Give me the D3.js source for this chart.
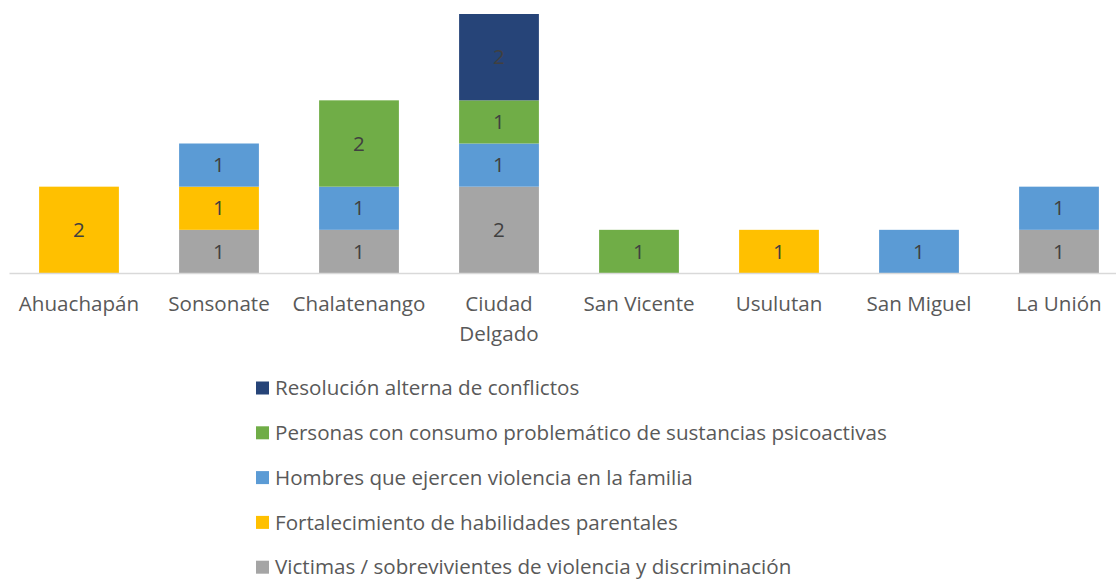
<!DOCTYPE html>
<html>
<head>
<meta charset="utf-8">
<script src="https://cdn.jsdelivr.net/npm/d3@7"></script>
<style>
  body { margin: 0; background: #ffffff; }
  svg { display: block; }
</style>
</head>
<body>
<div id="chart"></div>
<script>
  // Data
  var municipios = ['Ahuachapán', 'Sonsonate', 'Chalatenango', 'Ciudad Delgado',
                    'San Vicente', 'Usulutan', 'San Miguel', 'La Unión'];

  // Series, stacked bottom to top
  var seriesNames = [
    'Victimas / sobrevivientes de violencia y discriminación',
    'Fortalecimiento de habilidades parentales',
    'Hombres que ejercen violencia en la familia',
    'Personas con consumo problemático de sustancias psicoactivas',
    'Resolución alterna de conflictos'
  ];
  var victimas        = [0, 1, 1, 2, 0, 0, 0, 1];
  var fortalecimiento = [2, 1, 0, 0, 0, 1, 0, 0];
  var hombres         = [0, 1, 1, 1, 0, 0, 1, 1];
  var consumo         = [0, 0, 2, 1, 1, 0, 0, 0];
  var resolucion      = [0, 0, 0, 2, 0, 0, 0, 0];

  var seriesColors = ['#a5a5a5', '#ffc000', '#5b9bd5', '#70ad47', '#264478'];
  var yMax = 6;

  // Initialise key variables
  var outerWidth = 1116;
  var outerHeight = 580;
  var baseline = 273;
  var plotTop = 14;
  var fontFamily = '"Open Sans", "Noto Sans", sans-serif';
  var fontSize = '20.6px ';
  var textColor = '#404040';

  // Build a row per municipio for d3.stack
  var keys = ['victimas', 'fortalecimiento', 'hombres', 'consumo', 'resolucion'];
  var cols = [victimas, fortalecimiento, hombres, consumo, resolucion];
  var rows = municipios.map(function(m, i) {
    var r = {municipio: m};
    keys.forEach(function(k, j) { r[k] = cols[j][i]; });
    return r;
  });
  var stacked = d3.stack().keys(keys)(rows);

  var svg = d3.select('#chart').append('svg')
    .attr('width', outerWidth)
    .attr('height', outerHeight);

  // Scales
  var x = d3.scaleBand().domain(municipios).range([9, 1129]).paddingInner(0.43).paddingOuter(0.215);
  var y = d3.scaleLinear().domain([0, yMax]).range([baseline, plotTop]);

  // Bars
  var layer = svg.selectAll('.layer')
    .data(stacked)
    .enter().append('g')
      .attr('class', 'layer')
      .attr('fill', function(d, i) { return seriesColors[i]; });

  var seg = layer.selectAll('g.seg')
    .data(function(d) { return d.filter(function(p) { return p[1] - p[0] > 0; }); })
    .enter().append('g')
      .attr('class', 'seg');

  seg.append('rect')
    .attr('x', function(d) { return x(d.data.municipio); })
    .attr('y', function(d) { return y(d[1]); })
    .attr('width', x.bandwidth())
    .attr('height', function(d) { return y(d[0]) - y(d[1]); });

  seg.append('text')
    .attr('x', function(d) { return x(d.data.municipio) + x.bandwidth() / 2; })
    .attr('y', function(d) { return (y(d[0]) + y(d[1])) / 2; })
    .attr('dy', '0.35em')
    .attr('text-anchor', 'middle')
    .style('font', fontSize + fontFamily)
    .style('fill', textColor)
    .text(function(d) { return d[1] - d[0]; });

  // Category axis
  var xAxis = svg.append('g')
    .attr('transform', 'translate(0,' + baseline + ')')
    .call(d3.axisBottom(x).tickSize(0).tickPadding(0));
  xAxis.select('.domain').attr('stroke', '#d9d9d9').attr('stroke-width', 1.5);
  xAxis.selectAll('.tick text').remove();
  xAxis.selectAll('.tick').each(function(d) {
    var words = d === 'Ciudad Delgado' ? ['Ciudad', 'Delgado'] : [d];
    var t = d3.select(this).append('text')
      .attr('text-anchor', 'middle')
      .style('font', fontSize + fontFamily)
      .style('fill', '#595959');
    words.forEach(function(w, i) {
      t.append('tspan').attr('x', 0).attr('y', 38 + i * 30).text(w);
    });
  });

  // Legend, top row is the top of the stack
  var legend = svg.selectAll('.legend')
    .data(seriesNames.slice().reverse())
    .enter().append('g')
      .attr('class', 'legend')
      .attr('transform', function(d, i) { return 'translate(256,' + (388 + i * 44.8) + ')'; });

  legend.append('rect')
    .attr('x', 0)
    .attr('y', -6.5)
    .attr('width', 13)
    .attr('height', 13)
    .style('fill', function(d, i) { return seriesColors[seriesColors.length - 1 - i]; });

  legend.append('text')
    .attr('x', 19)
    .attr('dy', '0.35em')
    .style('font', fontSize + fontFamily)
    .style('fill', '#595959')
    .text(function(d) { return d; });
</script>
</body>
</html>
